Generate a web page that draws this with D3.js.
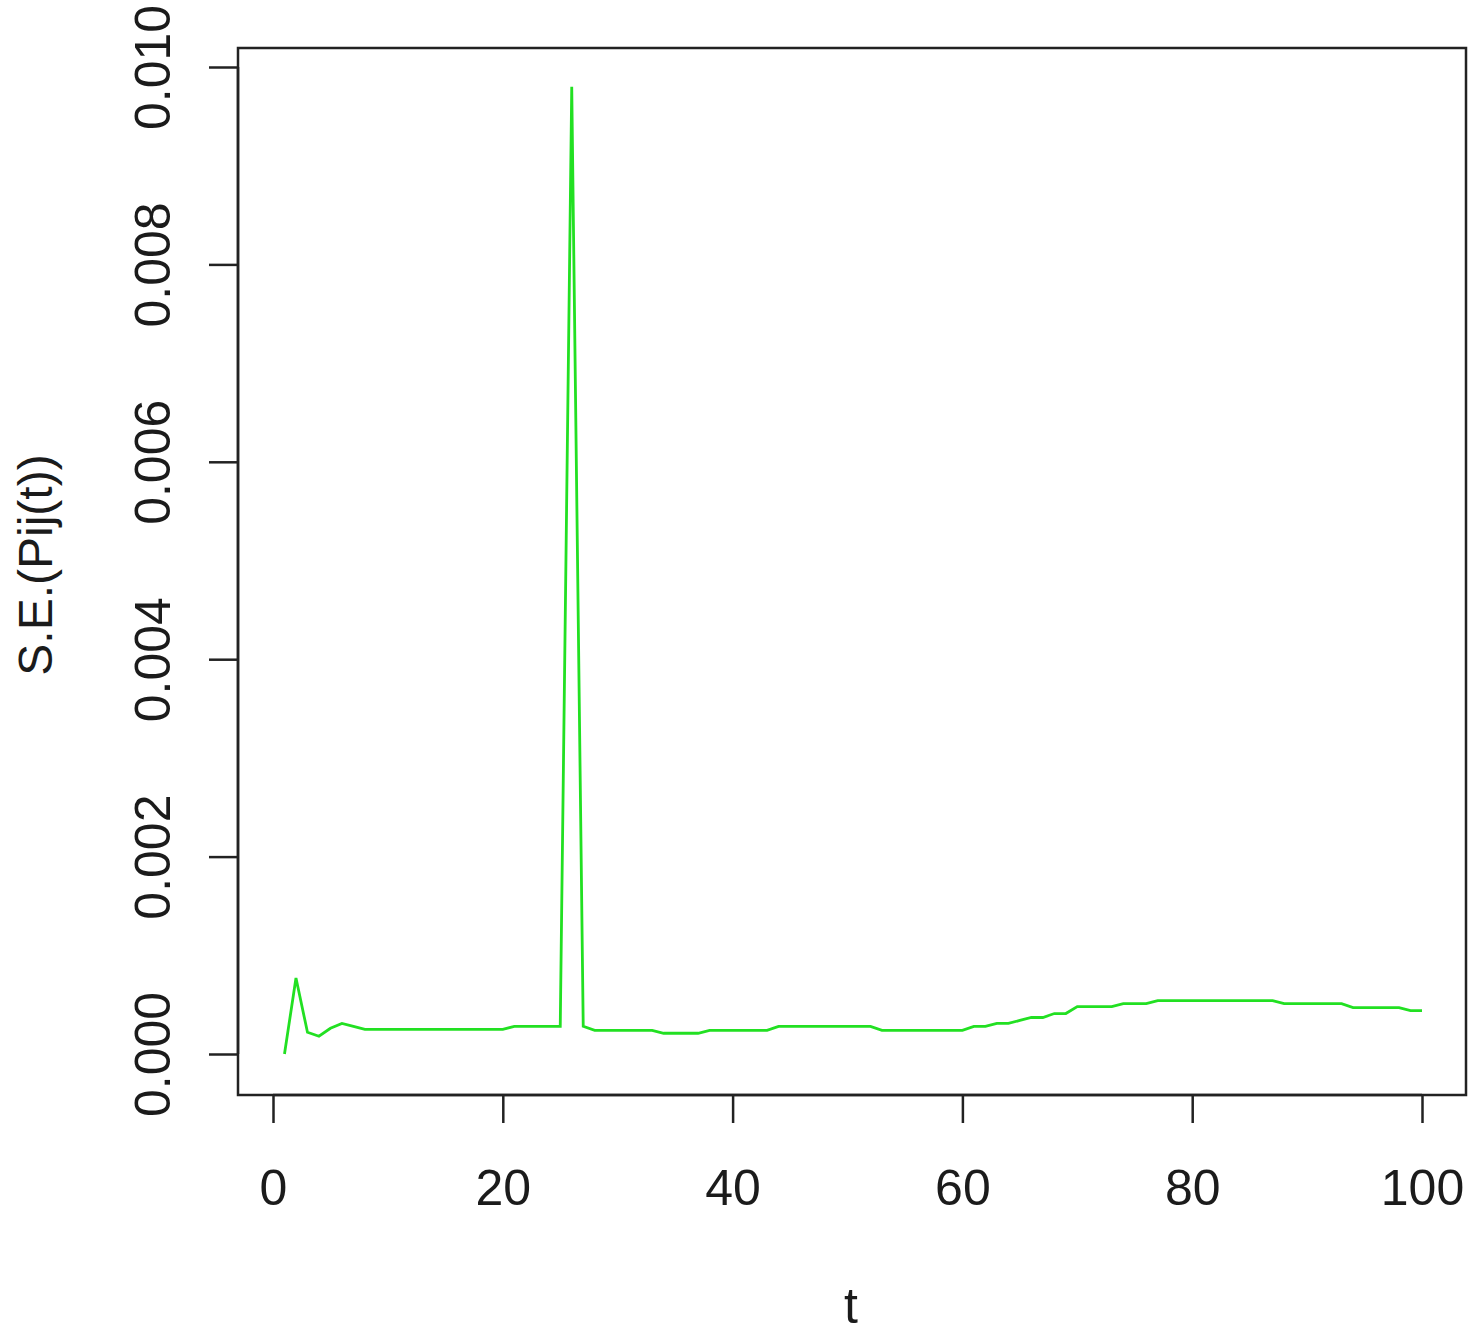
<!DOCTYPE html>
<html>
<head>
<meta charset="utf-8">
<script src="https://cdn.jsdelivr.net/npm/d3@7"></script>
<style>
  html, body { margin: 0; padding: 0; background: #fff; }
  svg { display: block; font-family: "Liberation Sans", Arial, sans-serif; }
</style>
</head>
<body>
<svg id="chart" width="1479" height="1334"></svg>
<script>
// ---- data ----
const seValues = [
  0.00000, 0.00077, 0.00022, 0.00018, 0.00026, 0.00031, 0.00028, 0.00025,
  0.00025, 0.00025, 0.00025, 0.00025, 0.00025, 0.00025, 0.00025, 0.00025, 0.00025, 0.00025, 0.00025, 0.00025,
  0.00028, 0.00028, 0.00028, 0.00028, 0.00028,
  0.00980,
  0.00028,
  0.00024, 0.00024, 0.00024, 0.00024, 0.00024, 0.00024,
  0.00021, 0.00021, 0.00021, 0.00021,
  0.00024, 0.00024, 0.00024, 0.00024, 0.00024, 0.00024,
  0.00028, 0.00028, 0.00028, 0.00028, 0.00028, 0.00028, 0.00028, 0.00028, 0.00028,
  0.00024, 0.00024, 0.00024, 0.00024, 0.00024, 0.00024, 0.00024, 0.00024,
  0.00028, 0.00028,
  0.00031, 0.00031,
  0.00034,
  0.00037, 0.00037,
  0.00041, 0.00041,
  0.00048, 0.00048, 0.00048, 0.00048,
  0.00051, 0.00051, 0.00051,
  0.00054, 0.00054, 0.00054, 0.00054, 0.00054, 0.00054, 0.00054, 0.00054, 0.00054, 0.00054, 0.00054,
  0.00051, 0.00051, 0.00051, 0.00051, 0.00051, 0.00051,
  0.00047, 0.00047, 0.00047, 0.00047, 0.00047,
  0.00044, 0.00044
];
const tValues = seValues.map((v, i) => i + 1);
const xTicks = [0, 20, 40, 60, 80, 100];
const yTicks = [0.000, 0.002, 0.004, 0.006, 0.008, 0.010];
const xLabel = "t";
const yLabel = "S.E.(Pij(t))";

// ---- layout ----
const svg = d3.select("#chart");
const box = { left: 238, top: 48, right: 1466, bottom: 1095 };
const x = d3.scaleLinear().domain([0, 100]).range([273, 1422]);
const y = d3.scaleLinear().domain([0, 0.010]).range([1054, 67]);
const textColor = "#1b1b1b";

// plot line
const line = d3.line()
  .x((d, i) => x(tValues[i]))
  .y(d => y(d));
svg.append("path")
  .datum(seValues)
  .attr("fill", "none")
  .attr("stroke", "#22e022")
  .attr("stroke-width", 2.8)
  .attr("stroke-linejoin", "miter")
  .attr("d", line);

// box
svg.append("rect")
  .attr("x", box.left).attr("y", box.top)
  .attr("width", box.right - box.left)
  .attr("height", box.bottom - box.top)
  .attr("fill", "none")
  .attr("stroke", "#222")
  .attr("stroke-width", 2.5);

// x axis
const xAxis = d3.axisBottom(x)
  .tickValues(xTicks)
  .tickSize(28)
  .tickPadding(46)
  .tickFormat(d3.format("d"));
const gx = svg.append("g")
  .attr("transform", `translate(0,${box.bottom})`)
  .call(xAxis);
gx.select(".domain").attr("stroke", "#222").attr("stroke-width", 2.5)
  .attr("d", `M${x(0)},0H${x(100)}`);
gx.selectAll(".tick line").attr("stroke", "#222").attr("stroke-width", 2.5);
gx.selectAll(".tick text")
  .attr("font-size", 50)
  .attr("fill", textColor)
  .attr("font-family", "Liberation Sans, Arial, sans-serif");

// y axis
const yAxis = d3.axisLeft(y)
  .tickValues(yTicks)
  .tickSize(29)
  .tickPadding(0)
  .tickFormat(d3.format(".3f"));
const gy = svg.append("g")
  .attr("transform", `translate(${box.left},0)`)
  .call(yAxis);
gy.select(".domain").attr("stroke", "#222").attr("stroke-width", 2.5)
  .attr("d", `M0,${y(0)}V${y(0.010)}`);
gy.selectAll(".tick line").attr("stroke", "#222").attr("stroke-width", 2.5);
gy.selectAll(".tick text")
  .attr("x", null).attr("dy", null)
  .attr("text-anchor", "middle")
  .attr("transform", "translate(-68,0) rotate(-90)")
  .attr("font-size", 50)
  .attr("fill", textColor)
  .attr("font-family", "Liberation Sans, Arial, sans-serif");

// axis titles
svg.append("text")
  .attr("x", 851).attr("y", 1323)
  .attr("text-anchor", "middle")
  .attr("font-size", 50)
  .attr("fill", textColor)
  .text(xLabel);
svg.append("text")
  .attr("transform", "translate(52,565) rotate(-90)")
  .attr("text-anchor", "middle")
  .attr("font-size", 48)
  .attr("fill", textColor)
  .text(yLabel);
</script>
</body>
</html>
